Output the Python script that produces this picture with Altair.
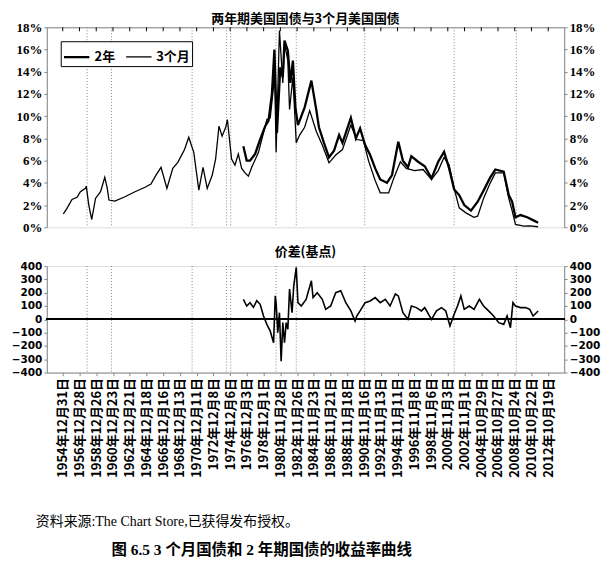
import json
import re
import altair as alt
import pandas as pd

CJK = "Noto Sans CJK SC"

# ---------------- data ----------------
t3m_years = [1955.07, 1955.5, 1956.1, 1956.7, 1957.1, 1957.7, 1957.8, 1958.1, 1958.45, 1958.9,
             1959.5, 1960.0, 1960.3, 1960.5, 1961.2, 1962.4, 1963.6, 1964.8, 1965.5, 1966.1,
             1966.7, 1967.4, 1968.1, 1968.7, 1969.5, 1970.0, 1970.6, 1971.2, 1971.7, 1972.2,
             1972.8, 1973.2, 1973.6, 1973.97, 1974.4, 1974.6, 1975.1, 1975.5, 1975.9, 1976.3,
             1976.7, 1977.1, 1977.5, 1978.3, 1978.9, 1979.3, 1979.7, 1980.1, 1980.2, 1980.4,
             1980.8, 1981.2, 1981.4, 1981.8, 1982.0, 1982.4, 1982.8, 1983.2, 1983.8, 1984.4,
             1985.2, 1985.9, 1986.7, 1987.5, 1988.3, 1989.3, 1990.0, 1990.8, 1991.4, 1992.2,
             1992.8, 1993.8, 1994.4, 1995.2, 1995.9, 1996.9, 1997.9, 1998.9, 1999.7, 2000.4,
             2001.0, 2001.6, 2002.2, 2003.0, 2003.96, 2004.4, 2005.1, 2005.9, 2006.5, 2007.5,
             2008.1, 2008.5, 2008.9, 2009.9, 2010.6, 2011.6]
t3m_values = [1.2, 1.7, 2.5, 2.7, 3.2, 3.5, 3.7, 2.0, 0.7, 2.6,
              3.2, 4.5, 3.5, 2.45, 2.35, 2.75, 3.2, 3.6, 3.9, 4.7,
              5.4, 3.5, 5.3, 5.85, 7.0, 8.1, 6.75, 3.35, 5.4, 3.5,
              4.7, 6.15, 9.1, 8.2, 9.0, 9.7, 6.15, 5.6, 6.6, 5.3,
              4.9, 4.6, 5.4, 6.75, 8.5, 9.7, 9.85, 12.7, 15.5, 6.75,
              17.7, 13.0, 16.5, 15.0, 10.6, 13.5, 7.6, 8.3, 9.0, 10.5,
              8.6, 7.4, 5.8, 6.5, 7.0, 9.2, 7.9, 7.8, 6.0, 4.2,
              3.1, 3.1, 4.4, 5.9, 5.3, 5.1, 5.2, 4.3, 5.1, 6.3,
              5.6, 3.5, 1.75, 1.3, 0.9, 1.0, 2.6, 4.0, 4.9, 4.9,
              2.6, 1.5, 0.25, 0.1, 0.12, 0.05]

t2y_years = [1976.5, 1976.9, 1977.3, 1977.9, 1978.5, 1979.1, 1979.5, 1979.9, 1980.2, 1980.5,
             1980.9, 1981.2, 1981.4, 1981.8, 1982.1, 1982.4, 1982.7, 1983.0, 1983.8, 1984.6,
             1985.2, 1985.5, 1986.1, 1986.7, 1987.3, 1987.9, 1988.3, 1989.3, 1989.9, 1990.4,
             1991.0, 1991.6, 1992.2, 1992.8, 1993.6, 1994.2, 1994.95, 1995.5, 1996.1, 1996.5,
             1997.3, 1998.1, 1998.9, 1999.7, 2000.4, 2001.0, 2001.6, 2002.2, 2002.8, 2003.6,
             2004.4, 2005.1, 2005.9, 2006.5, 2007.5, 2008.1, 2008.5, 2008.9, 2009.5, 2010.3,
             2011.1, 2011.6]
t2y_values = [7.3, 6.0, 6.0, 6.6, 7.9, 9.1, 9.6, 12.0, 16.0, 8.5,
              14.4, 13.5, 16.8, 15.9, 13.0, 15.0, 10.8, 9.2, 10.8, 13.2,
              10.5, 9.0, 7.6, 6.3, 6.9, 8.3, 7.6, 9.85, 8.0, 8.9,
              7.4, 6.5, 5.3, 4.3, 4.0, 4.7, 7.7, 6.0, 5.4, 6.4,
              5.9, 5.5, 4.4, 5.9, 6.8, 5.3, 3.4, 2.9, 2.0, 1.5,
              2.3, 3.3, 4.5, 5.2, 5.0, 2.9, 2.3, 0.9, 1.1, 0.9,
              0.6, 0.4]

spread_years = [1976.5, 1976.9, 1977.3, 1977.7, 1978.1, 1978.5, 1978.9, 1979.3, 1979.7, 1980.1,
                1980.3, 1980.4, 1980.6, 1980.8, 1981.0, 1981.2, 1981.4, 1981.6, 1981.8, 1982.0,
                1982.3, 1982.5, 1982.8, 1983.0, 1983.4, 1983.97, 1984.6, 1984.8, 1985.3, 1985.9,
                1986.3, 1986.9, 1987.5, 1988.1, 1988.7, 1989.3, 1989.8, 1990.0, 1990.4, 1991.0,
                1991.6, 1992.2, 1992.8, 1993.4, 1993.97, 1994.6, 1994.95, 1995.5, 1996.1, 1996.5,
                1997.1, 1997.7, 1998.1, 1998.9, 1999.5, 2000.1, 2000.6, 2001.1, 2001.6, 2002.0,
                2002.4, 2002.8, 2003.4, 2003.97, 2004.6, 2005.1, 2005.7, 2006.3, 2006.9, 2007.5,
                2007.9, 2008.3, 2008.6, 2008.9, 2009.5, 2010.1, 2010.6, 2011.0, 2011.6]
spread_values = [150, 100, 125, 90, 140, 113, 25, -38, -88, -176,
                 176, 125, -100, 50, -315, -25, -176, -25, -75, 227,
                 50, 250, 390, 125, 100, 150, 290, 163, 200, 150,
                 75, 100, 200, 215, 125, 63, -13, 25, 63, 125,
                 138, 163, 125, 150, 100, 190, 176, 50, 0, 100,
                 88, 63, 88, 0, 63, 88, 63, -50, 38, 100,
                 176, 75, 100, 75, 150, 100, 63, 25, -25, -38,
                 25, -63, 125, 100, 88, 88, 75, 25, 63]

recession_marks = [1957.9, 1960.8, 1970.4, 1974.5, 1975.0, 1980.4, 1982.8, 1990.95, 2001.6, 2009.0]

series_names = ["2年", "3个月"]

x_labels = ["1954年12月31日", "1956年12月28日", "1958年12月26日", "1960年12月23日",
            "1962年12月21日", "1964年12月18日", "1966年12月16日", "1968年12月13日",
            "1970年12月11日", "1972年12月8日", "1974年12月6日", "1976年12月3日",
            "1978年12月1日", "1980年11月28日", "1982年11月26日", "1984年11月23日",
            "1986年11月21日", "1988年11月18日", "1990年11月16日", "1992年11月13日",
            "1994年11月11日", "1996年11月8日", "1998年11月6日", "2000年11月3日",
            "2002年11月1日", "2004年10月29日", "2006年10月27日", "2008年10月24日",
            "2010年10月22日", "2012年10月19日"]

title_top = "两年期美国国债与3个月美国国债"
title_bottom = "价差(基点)"
source_text = "资料来源:The Chart Store,已获得发布授权。"
caption_text = "图 6.5   3 个月国债和 2 年期国债的收益率曲线"

# ---------------- tables ----------------
def label_to_year(s):
    y, m, d = map(int, re.findall(r"\d+", s))
    return y + (pd.Timestamp(y, m, d).dayofyear - 0.5) / 365.25

tick_vals = [round(label_to_year(s), 4) for s in x_labels]
step = (tick_vals[-1] - tick_vals[0]) / (len(tick_vals) - 1)
label_expr = "%s[round((datum.value - %.4f) / %.5f)]" % (
    json.dumps(x_labels, ensure_ascii=False), tick_vals[0], step)

lines_df = pd.concat([
    pd.DataFrame({"year": t2y_years, "value": t2y_values, "series": series_names[0]}),
    pd.DataFrame({"year": t3m_years, "value": t3m_values, "series": series_names[1]}),
])
spread_df = pd.DataFrame({"year": spread_years, "bp": spread_values})
rec_df = pd.DataFrame({"year": recession_marks})
tick_df = pd.DataFrame({"year": tick_vals})
notes_df = pd.DataFrame({"t": [source_text]})
cap_df = pd.DataFrame({"t": [caption_text]})

xdom = [1953.1, 2014.7]
W = 520
H_TOP = 201
H_BOT = 107

x_top = alt.X("year:Q", scale=alt.Scale(domain=xdom, nice=False, zero=False),
              axis=alt.Axis(orient="top", values=tick_vals, labels=False, ticks=False,
                            title=None, grid=False))
x_bot = alt.X("year:Q", scale=alt.Scale(domain=xdom, nice=False, zero=False),
              axis=alt.Axis(orient="bottom", values=tick_vals, labelExpr=label_expr,
                            labelAngle=270, labelFont=CJK, labelFontSize=13,
                            labelFontWeight="bold", labelOverlap=False, labelFlush=False,
                            labelPadding=2, tickSize=3, title=None, grid=False))

pct_axis = dict(values=list(range(0, 19, 2)), labelExpr="datum.value + '%'", title=None,
                labelFont="Liberation Serif", labelFontSize=13, labelFontWeight="bold",
                tickSize=3, grid=False, labelPadding=2)
bp_axis = dict(values=list(range(-400, 401, 100)), title=None, labelFont="DejaVu Sans",
               labelFontSize=10.5, labelFontWeight="bold", tickSize=3, grid=False,
               labelPadding=2)

rec_top = alt.Chart(rec_df).mark_rule(color="#888", strokeDash=[1, 2], strokeWidth=1).encode(x=x_top)
# small inward ticks hanging from the top frame line
top_ticks = alt.Chart(tick_df).mark_rule(color="black", strokeWidth=1).encode(
    x=x_top, y=alt.value(0), y2=alt.value(4))
lines = alt.Chart(lines_df).mark_line(color="black").encode(
    x=x_top,
    y=alt.Y("value:Q", scale=alt.Scale(domain=[0, 18], nice=False),
            axis=alt.Axis(orient="left", **pct_axis)),
    strokeWidth=alt.StrokeWidth("series:N",
                                scale=alt.Scale(domain=series_names, range=[2.3, 1.3]),
                                legend=alt.Legend(title=None, orient="top-left", offset=14,
                                                  direction="horizontal", strokeColor="black",
                                                  fillColor="white", padding=2,
                                                  symbolType="stroke", symbolSize=650,
                                                  symbolStrokeColor="black",
                                                  labelFont=CJK, labelFontSize=13,
                                                  labelFontWeight="bold", columnPadding=8)),
)
right_top = alt.Chart(lines_df).mark_line(strokeOpacity=0).encode(
    x=x_top,
    y=alt.Y("value:Q", scale=alt.Scale(domain=[0, 18], nice=False),
            axis=alt.Axis(orient="right", **pct_axis)),
    detail="series:N",
)
top = alt.layer(rec_top, top_ticks, lines, right_top).resolve_axis(y="independent").properties(
    width=W, height=H_TOP,
    title=alt.Title(title_top, font=CJK, fontSize=13, fontWeight="bold", anchor="middle",
                    offset=-5, lineHeight=13),
)

rec_bot = alt.Chart(rec_df).mark_rule(color="#888", strokeDash=[1, 2], strokeWidth=1).encode(x=x_bot)
zero = alt.Chart(spread_df).mark_rule(color="black", strokeWidth=1.3).encode(
    y=alt.YDatum(0, axis=None))
spread = alt.Chart(spread_df).mark_line(color="black", strokeWidth=1.6).encode(
    x=x_bot,
    y=alt.Y("bp:Q", scale=alt.Scale(domain=[-400, 400], nice=False),
            axis=alt.Axis(orient="left", **bp_axis)),
)
right_bot = alt.Chart(spread_df).mark_line(strokeOpacity=0).encode(
    x=x_bot,
    y=alt.Y("bp:Q", scale=alt.Scale(domain=[-400, 400], nice=False),
            axis=alt.Axis(orient="right", **bp_axis)),
)
# source note and figure caption, placed below the lower panel
src = alt.Chart(notes_df).mark_text(align="left", baseline="middle", fontSize=14,
                                    font="Liberation Serif, Noto Sans CJK SC").encode(
    text="t:N", x=alt.value(-11), y=alt.value(H_BOT + 150))
cap = alt.Chart(cap_df).mark_text(align="left", baseline="middle", fontSize=15.5, fontWeight="bold",
                                  font="Liberation Serif, Noto Sans CJK SC").encode(
    text="t:N", x=alt.value(65), y=alt.value(H_BOT + 178))

bottom = alt.layer(rec_bot, zero, spread, right_bot, src, cap).resolve_axis(y="independent").properties(
    width=W, height=H_BOT,
    title=alt.Title(title_bottom, font=CJK, fontSize=13, fontWeight="bold", anchor="middle", offset=2),
)

chart = alt.vconcat(top, bottom, spacing=10).properties(
    padding={"left": 2, "top": 3, "right": 0, "bottom": 0}
).configure_view(stroke="transparent").configure_axis(
    domainColor="black", tickColor="black", labelColor="black", domainWidth=1.2
).configure(background="white")

chart.save("out.html", embed_options={"renderer": "svg", "actions": False})
